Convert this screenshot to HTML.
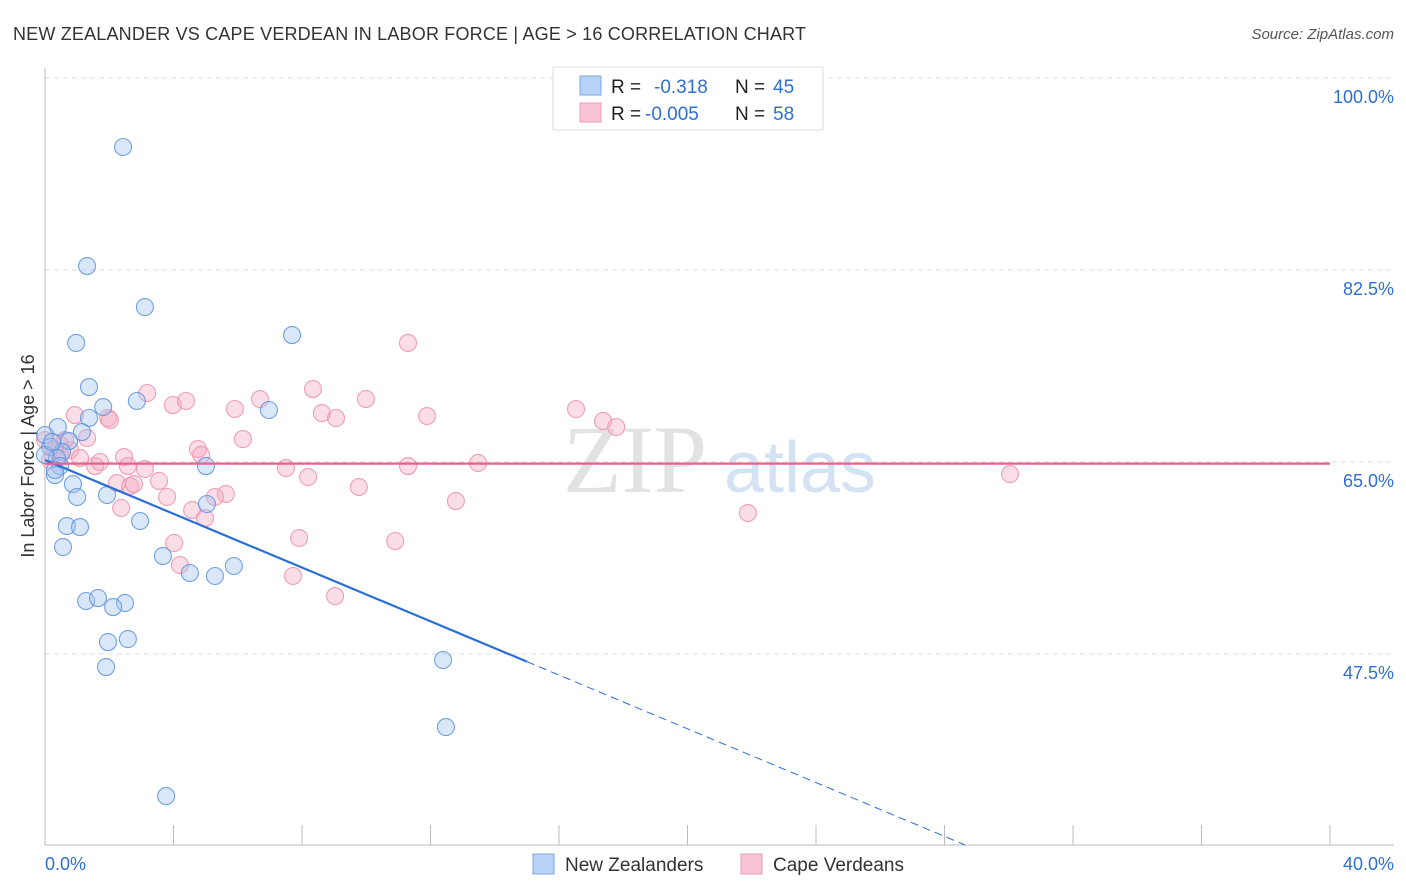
<!DOCTYPE html>
<html><head><meta charset="utf-8">
<style>
body{margin:0;background:#fff;font-family:"Liberation Sans",sans-serif;}
#wrap{position:relative;width:1406px;height:892px;overflow:hidden;}
</style></head>
<body><div id="wrap">
<svg id="svg" width="1406" height="892" xmlns="http://www.w3.org/2000/svg" style="position:absolute;left:0;top:0">
<text x="13" y="40" font-size="18" fill="#333" textLength="793">NEW ZEALANDER VS CAPE VERDEAN IN LABOR FORCE | AGE &gt; 16 CORRELATION CHART</text>
<text x="1394" y="39" font-size="15" fill="#555" font-style="italic" text-anchor="end">Source: ZipAtlas.com</text>
<text x="635" y="492" font-size="96" fill="#e2e2e2" font-family="Liberation Serif,serif" text-anchor="middle">ZIP</text>
<text x="800" y="492" font-size="72" fill="#d5e2f4" text-anchor="middle">atlas</text>
<text transform="translate(34,456) rotate(-90)" font-size="18" fill="#333" text-anchor="middle">In Labor Force | Age &gt; 16</text>
<g id="grid"></g><g id="axes"></g><g id="pts"></g><g id="trend"></g>
<g>
<rect x="553" y="67" width="270" height="63" fill="#fff" stroke="#ddd"/>
<rect x="580" y="76" width="21" height="19" fill="#b7d2f5" stroke="#7aa7e4"/>
<rect x="580" y="103" width="21" height="19" fill="#f9c5d4" stroke="#ee9ab4"/>
<text x="611" y="93" font-size="19" fill="#222">R = </text><text x="654" y="93" font-size="19" fill="#2f6fd0">-0.318</text>
<text x="735" y="93" font-size="19" fill="#222">N = </text><text x="773" y="93" font-size="19" fill="#2f6fd0">45</text>
<text x="611" y="120" font-size="19" fill="#222">R = </text><text x="645" y="120" font-size="19" fill="#2f6fd0">-0.005</text>
<text x="735" y="120" font-size="19" fill="#222">N = </text><text x="773" y="120" font-size="19" fill="#2f6fd0">58</text>
</g>
<g>
<rect x="533" y="854" width="21" height="20" fill="#b7d2f5" stroke="#7aa7e4"/>
<text x="565" y="871" font-size="19" fill="#333">New Zealanders</text>
<rect x="741" y="854" width="21" height="20" fill="#f9c5d4" stroke="#ee9ab4"/>
<text x="773" y="871" font-size="19" fill="#333">Cape Verdeans</text>
</g>
<text x="45" y="870" font-size="18" fill="#2f6fd0">0.0%</text>
<text x="1394" y="870" font-size="18" fill="#2f6fd0" text-anchor="end">40.0%</text>
</svg></div>
<script>
const yTicks=[100,82.5,65,47.5];
const yTickLabels=["100.0%","82.5%","65.0%","47.5%"];
const xTicks=[0,4,8,12,16,20,24,28,32,36,40];
const blueX=[2.43,1.31,3.11,7.69,0.97,1.37,2.86,1.81,6.97,1.37,0.40,1.15,0.0,0.75,0.16,0.53,0.37,5.01,0.47,0.31,0.87,1.00,1.93,5.04,0.68,1.09,2.96,0.56,3.67,5.88,4.51,5.29,1.28,1.65,2.49,2.12,2.58,1.96,1.90,12.39,12.48,3.77,0.0,0.22,0.31];
const blueY=[93.71,82.86,79.12,76.57,75.85,71.83,70.56,70.01,69.74,69.01,68.19,67.73,67.46,66.91,66.37,65.91,65.36,64.63,64.63,63.81,62.99,61.81,61.99,61.17,59.16,59.07,59.62,57.25,56.43,55.52,54.88,54.61,52.33,52.60,52.15,51.78,48.86,48.59,46.31,46.95,40.84,34.55,65.64,66.82,64.27];
const pinkX=[11.30,3.18,3.98,4.39,6.69,9.99,8.34,5.91,8.62,9.06,11.89,16.53,17.37,17.78,0.93,1.96,2.02,1.31,6.16,4.76,4.86,0,0.47,0.78,1.09,2.46,1.56,2.58,3.11,3.55,11.30,13.48,7.50,8.19,2.24,2.65,2.77,3.80,5.63,5.29,9.77,12.79,2.37,4.58,4.98,21.88,30.04,4.02,7.91,10.90,4.20,7.72,9.03,0.47,0.16,0.62,1.71,0.31];
const pinkY=[75.85,71.29,70.19,70.56,70.74,70.74,71.65,69.83,69.46,69.01,69.19,69.83,68.74,68.19,69.28,69.01,68.83,67.19,67.09,66.18,65.64,67.00,66.55,66.09,65.36,65.45,64.63,64.63,64.36,63.27,64.63,64.91,64.45,63.63,63.08,62.81,62.99,61.81,62.08,61.81,62.72,61.44,60.81,60.62,59.89,60.35,63.90,57.62,58.07,57.80,55.61,54.61,52.78,65.64,65.18,67.00,65.00,66.09];
const blueTrend=[65.18,-1.225];
const pinkTrend=[64.85,0];
const X=v=>45+v/40*1285, Y=v=>78+(100-v)/17.5*192;
const NS="http://www.w3.org/2000/svg";
function mk(t,a,p){const e=document.createElementNS(NS,t);for(const k in a)e.setAttribute(k,a[k]);p.appendChild(e);return e;}
const grid=document.getElementById('grid'),axes=document.getElementById('axes'),pts=document.getElementById('pts'),tr=document.getElementById('trend');
yTicks.forEach((v,i)=>{
 const l=mk('line',{x1:45,x2:1394,y1:Y(v),y2:Y(v),stroke:'#ddd','stroke-dasharray':'5,4'},grid);
 
 
 const t=mk('text',{x:1394,y:Y(v)+25,'font-size':18,fill:'#2f6fd0','text-anchor':'end'},grid);t.textContent=yTickLabels[i];
 
 
});
mk('line',{x1:45,x2:45,y1:68,y2:845,stroke:'#bbb'},axes);
mk('line',{x1:45,x2:1394,y1:845,y2:845,stroke:'#bbb'},axes);
xTicks.forEach(v=>{const l=mk('line',{x1:X(v),x2:X(v),y1:825,y2:845,stroke:'#bbb'},axes);
 
 });
function dots(xs,ys,fill,stroke,name){xs.forEach((x,i)=>{const c=mk('circle',{cx:X(x),cy:Y(ys[i]),r:8.5,fill:fill,'fill-opacity':0.4,stroke:stroke,'stroke-width':1.1,'stroke-opacity':0.85},pts);
 
 });}
dots(pinkX,pinkY,'#f4a9c0','#ec8fac','cape-verdean-point');
dots(blueX,blueY,'#a3c4f0','#5b93dc','new-zealander-point');
const bEnd=15, bZero=(blueTrend[0]-30.1)/-blueTrend[1];
let l=mk('line',{x1:X(0),y1:Y(blueTrend[0]),x2:X(bEnd),y2:Y(blueTrend[0]+blueTrend[1]*bEnd),stroke:'#2a6fd6','stroke-width':2.2},tr);


l=mk('line',{x1:X(bEnd),y1:Y(blueTrend[0]+blueTrend[1]*bEnd),x2:X(bZero),y2:Y(blueTrend[0]+blueTrend[1]*bZero),stroke:'#2a6fd6','stroke-width':1,'stroke-dasharray':'8,5'},tr);


l=mk('line',{x1:X(0),y1:Y(pinkTrend[0]),x2:X(40),y2:Y(pinkTrend[0]+pinkTrend[1]*40),stroke:'#e8628a','stroke-width':2.2},tr);


</script></body></html>
